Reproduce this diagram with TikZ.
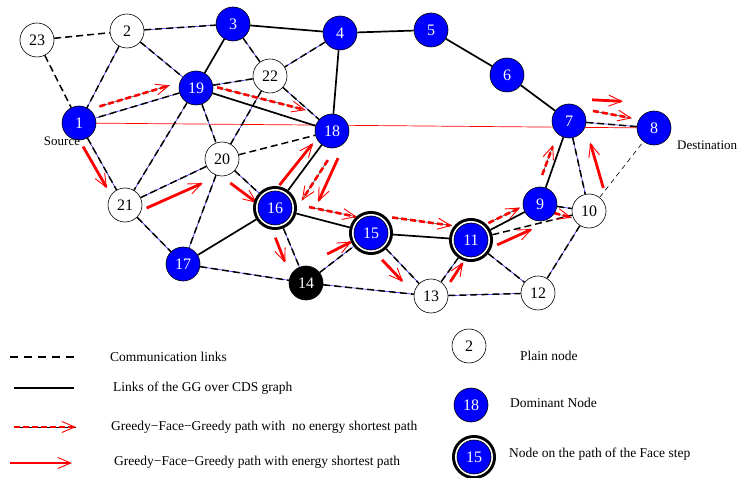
\documentclass[tikz,border=0pt]{standalone}
\usepackage{fontspec}
\setmainfont{Liberation Serif}
\usetikzlibrary{arrows.meta,calc}
\pgfdeclarelayer{back}
\pgfsetlayers{back,main}

% hop{style}{from}{to}{start}{offset}{end}{offset}
\newcommand\hop[7]{\draw[#1] ($(#2)!#4!(#3)!#5pt!90:(#3)$) -- ($(#2)!#6!(#3)!#7pt!90:(#3)$);}

\begin{document}
\begin{tikzpicture}[x=1pt,y=-1pt,
        plain/.style={circle,draw,line width=0.6pt,fill=white,minimum size=34pt,inner sep=0pt,
            font=\fontsize{16}{16}\selectfont},
        dom/.style={plain,fill=blue,text=white},
        face/.style={dom,outer sep=5pt,preaction={draw=black,line width=10pt},
            preaction={draw=white,line width=4pt}},
        link/.style={line width=1.5pt,dash pattern=on 7pt off 4pt,
            preaction={draw=blue,solid,line width=0.5pt}},
        dlink/.style={line width=1.5pt,dash pattern=on 7pt off 4pt},
        gg/.style={line width=1.7pt},
        fine/.style={line width=0.6pt,dash pattern=on 5pt off 4pt},
        tip/.style={-{Straight Barb[length=13pt,width=11pt,line width=0.9pt]}},
        epath/.style={tip,red,line width=2.8pt},
        npath/.style={tip,red,line width=2.6pt,dash pattern=on 6pt off 3pt,
            preaction={draw=black,solid,line width=0.4pt,-}},
        lbl/.style={inner sep=0pt,font=\fontsize{13}{13}\selectfont},
        legend/.style={anchor=west,inner sep=0pt,font=\fontsize{13.5}{14}\selectfont}]
        \useasboundingbox (0,0) rectangle (738,478);

        % nodes
        \node[plain] (n23) at (37,40) {23};
        \node[plain] (n2) at (127,31) {2};
        \node[dom] (n3) at (233,24) {3};
        \node[dom] (n4) at (340,33) {4};
        \node[dom] (n5) at (431,30) {5};
        \node[dom] (n6) at (507,75) {6};
        \node[dom] (n7) at (569,121) {7};
        \node[dom] (n8) at (654,128) {8};
        \node[dom] (n1) at (79,123) {1};
        \node[dom] (n19) at (196,88) {19};
        \node[plain] (n22) at (270,76) {22};
        \node[dom] (n18) at (332,131) {18};
        \node[plain] (n20) at (222,159) {20};
        \node[plain] (n21) at (125,205) {21};
        \node[face] (n16) at (275,208) {16};
        \node[dom] (n17) at (183,264) {17};
        \node[dom,fill=black] (n14) at (306,283) {14};
        \node[face] (n15) at (371,233) {15};
        \node[face] (n11) at (471,240) {11};
        \node[dom] (n9) at (540,204) {9};
        \node[plain] (n10) at (589,211) {10};
        \node[plain] (n13) at (431,296) {13};
        \node[plain] (n12) at (538,293) {12};
        \node[lbl] at (62,141) {Source};
        \node[lbl,anchor=west] at (677,145) {Destination};

        \begin{pgfonlayer}{back}
        \draw[red,line width=0.7pt] (n1) -- (n8);
        \draw[dlink] (n23) -- (n2) (n23) -- (n1) (n20) -- (n18) (n11) -- (n10);
        \draw[fine] (n10) -- (n8);
        \draw[link]
            (n2) -- (n3) (n2) -- (n1) (n2) -- (n19) (n3) -- (n22) (n4) -- (n22)
            (n19) -- (n22) (n19) -- (n1) (n19) -- (n21) (n19) -- (n20)
            (n22) -- (n18) (n22) -- (n20) (n1) -- (n21) (n20) -- (n21)
            (n20) -- (n17) (n20) -- (n16) (n21) -- (n17) (n17) -- (n14)
            (n16) -- (n14) (n14) -- (n15) (n14) -- (n13) (n15) -- (n13)
            (n11) -- (n13) (n11) -- (n12) (n9) -- (n10) (n7) -- (n10)
            (n7) -- (n8) (n10) -- (n12) (n13) -- (n12);
        \draw[gg]
            (n3) -- (n4) -- (n5) -- (n6) -- (n7) -- (n9) -- (n11) -- (n15) -- (n16)
            (n3) -- (n19) -- (n18) -- (n4)
            (n18) -- (n16) -- (n17);

        % path without energy
        \hop{npath}{n1}{n19}{0.2}{10}{0.8}{10}
        \hop{npath}{n19}{n18}{0.14}{7}{0.78}{12}
        \hop{npath}{n18}{n16}{0.27}{14}{0.77}{17}
        \hop{npath}{n16}{n15}{0.33}{9.5}{0.82}{12}
        \hop{npath}{n15}{n11}{0.2}{17}{0.8}{13}
        \hop{npath}{n11}{n9}{0.3}{7}{0.75}{6}
        \hop{npath}{n9}{n10}{0.31}{-7}{0.67}{-9}
        \hop{npath}{n9}{n7}{0.32}{7.5}{0.68}{7}
        \hop{npath}{n7}{n8}{0.27}{12}{0.73}{8}
        % path with energy
        \hop{epath}{n1}{n21}{0.24}{-8}{0.75}{-7.5}
        \hop{epath}{n21}{n20}{0.17}{-12}{0.74}{-13.5}
        \hop{epath}{n20}{n16}{0.31}{-12}{0.77}{-8.5}
        \hop{epath}{n16}{n18}{0.22}{10}{0.78}{8}
        \hop{epath}{n18}{n16}{0.19}{21}{0.68}{31}
        \hop{epath}{n16}{n14}{0.34}{-11}{0.67}{-11.5}
        \hop{epath}{n14}{n15}{0.42}{10}{0.75}{5}
        \hop{epath}{n15}{n13}{0.31}{-10.5}{0.66}{-10.5}
        \hop{epath}{n13}{n11}{0.33}{-7.5}{0.67}{-6.5}
        \hop{epath}{n11}{n10}{0.2}{-11}{0.51}{-4}
        \hop{epath}{n10}{n7}{0.21}{-19}{0.72}{-16}
        \hop{epath}{n7}{n8}{0.25}{23}{0.61}{24}
        \end{pgfonlayer}

        % legend
        \draw[dlink,line width=2pt,dash pattern=on 8pt off 6pt] (10,357) -- (76,357);
        \node[legend] at (110,357) {Communication links};
        \draw[gg,line width=2pt] (14,388) -- (74,388);
        \node[legend] at (113,388) {Links of the GG over CDS graph};
        \draw[npath] (14,427) -- (76,427);
        \node[legend] at (111,427) {Greedy−Face−Greedy path with\ \ no energy shortest path};
        \draw[epath] (10,463) -- (72,463);
        \node[legend] at (114,462) {Greedy−Face−Greedy path with energy shortest path};
        \node[plain] (k2) at (469,346) {2};
        \node[legend] at (520,356) {Plain node};
        \node[dom] (k18) at (471,405) {18};
        \node[legend] at (510,403) {Dominant Node};
        \node[face] (k15) at (474,457) {15};
        \node[legend] at (509,454) {Node on the path of the Face step};
\end{tikzpicture}
\end{document}
